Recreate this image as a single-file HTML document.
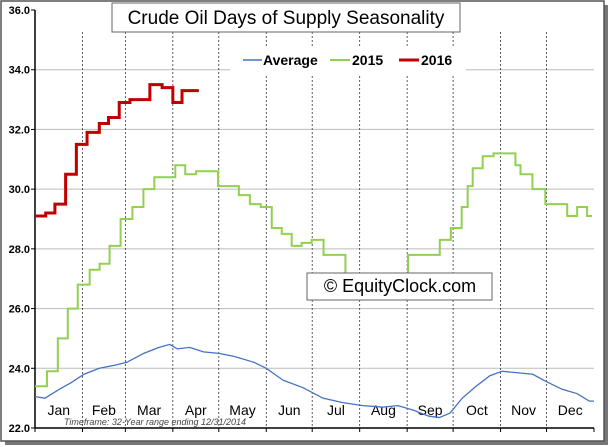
<!DOCTYPE html>
<html><head><meta charset="utf-8"><style>
body{margin:0;background:#fff;width:613px;height:447px;overflow:hidden}
svg{display:block;font-family:"Liberation Sans",sans-serif}
</style></head><body>
<svg width="613" height="447">
<rect x="5" y="5" width="603" height="440" fill="#777"/>
<rect x="1" y="1" width="603" height="440" fill="#fff" stroke="#555" stroke-width="1.5"/>
<g id="grid"></g>
<g id="series"></g>
<rect x="230" y="46" width="236" height="28" fill="#fff"/>
<g>
<line x1="243" y1="60" x2="262" y2="60" stroke="#4472c4" stroke-width="1.5"/>
<text x="263" y="65" font-size="14" font-weight="bold">Average</text>
<line x1="330" y1="60" x2="350" y2="60" stroke="#92d050" stroke-width="2"/>
<text x="352" y="65" font-size="14" font-weight="bold">2015</text>
<line x1="399" y1="60" x2="419" y2="60" stroke="#c00000" stroke-width="3"/>
<text x="421" y="65" font-size="14" font-weight="bold">2016</text>
</g>
<rect x="112" y="3" width="348" height="29" fill="#fff" stroke="#666"/>
<text x="286" y="24" font-size="19" text-anchor="middle">Crude Oil Days of Supply Seasonality</text>
<rect x="307" y="273" width="185" height="27" fill="#fff" stroke="#666"/>
<text x="400" y="292" font-size="18" text-anchor="middle">© EquityClock.com</text>
<text x="64" y="425" font-size="9" font-style="italic" fill="#444">Timeframe: 32-Year range ending 12/31/2014</text>
</svg>
<script>
const yTicks=[22,24,26,28,30,32,34,36];
const yTickLabels=["22.0","24.0","26.0","28.0","30.0","32.0","34.0","36.0"];
const months=["Jan","Feb","Mar","Apr","May","Jun","Jul","Aug","Sep","Oct","Nov","Dec"];
const monthStarts=[0,31,59,90,120,151,181,212,243,273,304,334,365];
const avgDays=[0,6.5,16,23,32,42,52,60,71,81,88,93,101,110,120,130,143,151,162,175,188,201,214,227,237,247,257,264,271,279,288,297,305,315,325,334,344,354,362,365];
const avgVals=[23.05,23.0,23.3,23.5,23.8,24.0,24.1,24.2,24.5,24.7,24.8,24.65,24.7,24.55,24.5,24.4,24.2,24.0,23.6,23.35,23.0,22.85,22.75,22.7,22.75,22.6,22.4,22.35,22.5,23.0,23.4,23.75,23.9,23.85,23.8,23.55,23.3,23.15,22.9,22.9];
const g15Days=[0,7.8,14.9,21.4,27.9,35.7,42.2,48.7,55.9,63.6,70.8,77.9,91.6,98.1,105.2,119.5,133.1,140.3,147.4,154.6,161.1,167.6,174.1,180.6,188.4,202.7,243.6,264.3,271.5,278.6,282.5,285.8,292.3,299.4,313.7,317,324.8,333.2,347.5,354,360.5];
const g15Vals=[23.4,23.9,25.0,26.0,26.8,27.3,27.5,28.1,29.0,29.4,30.0,30.4,30.8,30.5,30.6,30.1,29.8,29.5,29.4,28.7,28.5,28.1,28.2,28.3,27.8,27.0,27.8,28.3,28.7,29.4,30.1,30.7,31.1,31.2,30.8,30.5,30.0,29.5,29.1,29.4,29.1];
const g15End=363.7;
const r16Days=[0,7,13,20,27,34,42,48,55,62,75,83,90,96];
const r16Vals=[29.1,29.2,29.5,30.5,31.5,31.9,32.2,32.4,32.9,33.0,33.5,33.4,32.9,33.3];
const r16End=107;
const X0=35,X1=594,Y0=428,Y1=10;
const xs=d=>X0+(X1-X0)*d/365;
const ys=v=>Y0-(Y0-Y1)*(v-22)/14;
const NS="http://www.w3.org/2000/svg";
function mk(tag,attrs,parent,txt){const e=document.createElementNS(NS,tag);for(const k in attrs)e.setAttribute(k,attrs[k]);if(txt!==undefined)e.textContent=txt;parent.appendChild(e);return e;}
const grid=document.getElementById('grid'),ser=document.getElementById('series');
yTicks.forEach((v,i)=>{
  if(i>0&&i<yTicks.length-1){const l=mk('line',{x1:X0,x2:X1,y1:ys(v),y2:ys(v),stroke:'#bbb','stroke-width':1},grid);
  
  }
  mk('line',{x1:X0-4,x2:X0,y1:ys(v),y2:ys(v),stroke:'#000'},grid);
  const t=mk('text',{x:30,y:ys(v)+4,'font-size':11,'font-weight':'bold','text-anchor':'end'},grid,yTickLabels[i]);
  
  
});
monthStarts.forEach((d,i)=>{
  if(i>0&&i<12){const l=mk('line',{x1:xs(d),x2:xs(d),y1:Y1+22,y2:Y0,stroke:'#333','stroke-dasharray':'2,2','stroke-width':0.8},grid);
  
  }
  mk('line',{x1:xs(d),x2:xs(d),y1:Y0,y2:Y0+4,stroke:'#000'},grid);
  if(i<12){const t=mk('text',{x:xs((d+monthStarts[i+1])/2),y:415,'font-size':14,'text-anchor':'middle'},grid,months[i]);
  
  }
});
mk('line',{x1:X0,x2:X0,y1:Y1,y2:Y0,stroke:'#000','stroke-width':1.5},grid);
mk('line',{x1:X0,x2:X1,y1:Y0,y2:Y0,stroke:'#000','stroke-width':1.5},grid);
function stepPath(ds,vs,end){let p='M'+xs(ds[0])+','+ys(vs[0]);for(let i=0;i<ds.length;i++){const nx=i+1<ds.length?ds[i+1]:end;p+=' L'+xs(nx)+','+ys(vs[i]);if(i+1<ds.length)p+=' L'+xs(nx)+','+ys(vs[i+1]);}return p;}
const a=mk('path',{d:avgDays.map((d,i)=>(i?'L':'M')+xs(d)+','+ys(avgVals[i])).join(' '),fill:'none',stroke:'#4472c4','stroke-width':1.3},ser);


const g=mk('path',{d:stepPath(g15Days,g15Vals,g15End),fill:'none',stroke:'#92d050','stroke-width':2},ser);


const r=mk('path',{d:stepPath(r16Days,r16Vals,r16End),fill:'none',stroke:'#c00000','stroke-width':3},ser);


</script>
</body></html>
